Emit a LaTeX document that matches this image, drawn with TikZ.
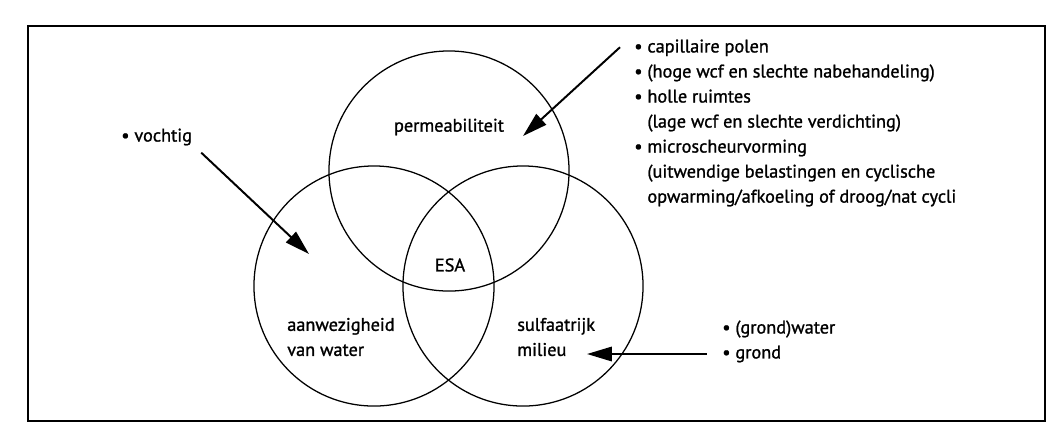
\documentclass[tikz,border=0pt]{standalone}
\usepackage{fontspec}
\setmainfont{PT Sans}[UprightFeatures = {FakeBold = 1.2}]
\usetikzlibrary{positioning}
\usetikzlibrary{arrows.meta}

\begin{document}
\begin{tikzpicture}[
    x = 0.025cm, y = -0.025cm,
    ring/.style = {shape = circle, draw = black, line width = 0.9pt, minimum size = 6cm, inner sep = 0},
    lbl/.style = {font = \fontsize{13}{17.8}\selectfont, align = left, inner sep = 0},
    arr/.style = {-{Triangle[length = 0.62cm, width = 0.36cm]}, line width = 1.4pt},
    ]
    \useasboundingbox (0,0) rectangle (1050,437);
    \draw[line width = 1pt] (28,26) rectangle (1045,421);

    % the three circles
    \node[ring] (perm) at (449,171) {};
    \node[ring] (water) at (374,286) {};
    \node[ring] (sulf) at (523,286) {};

    \node[lbl] (permtxt) at (449,127) {permeabiliteit};
    \node[lbl] (esa) at (450,265) {ESA};
    \node[lbl, anchor = west] (watertxt) at (287,337) {aanwezigheid\\van water};
    \node[lbl, anchor = west] (sulftxt) at (517,337) {sulfaatrijk\\milieu};

    % causes
    \node[lbl, anchor = west] (vochtig) at (121,137) {\textbullet\ vochtig};
    \node[lbl, anchor = west] (poren) at (634,123) {\textbullet\ capillaire polen\\
        \textbullet\ (hoge wcf en slechte nabehandeling)\\
        \textbullet\ holle ruimtes\\
        \phantom{\textbullet\ }(lage wcf en slechte verdichting)\\
        \textbullet\ microscheurvorming\\
        \phantom{\textbullet\ }(uitwendige belastingen en cyclische\\
        \phantom{\textbullet\ }opwarming/afkoeling of droog/nat cycli};
    \node[lbl, anchor = west] (grondw) at (722,329) {\textbullet\ (grond)water};
    \node[lbl, anchor = west] (grond) at (722,354) {\textbullet\ grond};

    \coordinate (vtip) at (309,254);
    \coordinate (ptip) at (523,136);
    \coordinate (gtip) at (587,354);

    \draw[arr] (vochtig.south east) ++(9,7) -- (vtip);
    \draw[arr] (poren.north west) ++(-14,8) -- (ptip);
    \draw[arr] ([xshift = -0.38cm]grond.west) -- (gtip);
\end{tikzpicture}
\end{document}
